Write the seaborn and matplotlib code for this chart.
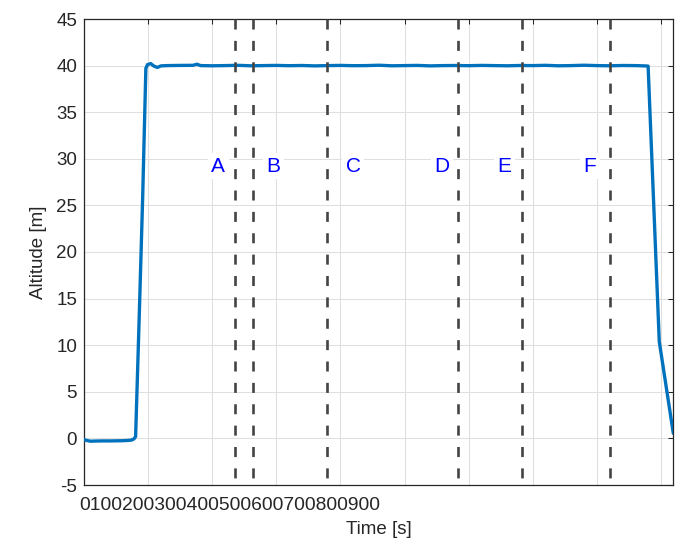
import matplotlib
matplotlib.use("Agg")
import matplotlib.pyplot as plt
import seaborn as sns
import pandas as pd

# ---------------- data ----------------
ground_t = [0, 4, 10, 20, 30, 40, 50, 60, 68, 74, 78, 80.5]
ground_alt = [-0.12, -0.22, -0.30, -0.28, -0.27, -0.27, -0.26, -0.25, -0.22, -0.18, -0.05, 0.2]

climb_t = [86, 91.5, 96.5, 99, 104, 109, 114.5, 120]
climb_alt = [12.7, 25.8, 39.7, 40.1, 40.22, 39.95, 39.8, 39.97]

cruise_t = [130, 150, 170, 176, 182, 200, 220, 240, 260, 280, 300, 320, 340, 360,
            380, 400, 420, 440, 460, 480, 500, 520, 540, 560, 580, 600, 620, 640,
            660, 680, 700, 720, 740, 760, 780, 800, 820, 840, 860, 874, 880]
cruise_alt = [40.00, 40.02, 40.03, 40.15, 40.00, 39.98, 40.00, 40.03, 39.98, 40.00,
              40.02, 39.99, 40.01, 39.97, 40.00, 40.02, 39.99, 40.00, 40.04, 39.98,
              40.00, 40.02, 39.97, 40.00, 40.01, 39.99, 40.02, 40.00, 39.98, 40.01,
              40.00, 40.03, 39.98, 40.00, 40.04, 40.00, 39.98, 40.01, 40.00, 39.97, 39.95]

descent_t = [897.4, 919.3]
descent_alt = [10.4, 0.55]

boundaries = [236, 263, 379, 584, 684, 820]
phase_labels = ["A", "B", "C", "D", "E", "F"]
phase_label_t = [209.5, 295.6, 420, 558, 655.6, 789]
phase_label_alt = 29.2

xtick_values = [0, 100, 200, 300, 400, 500, 600, 700, 800, 900]
xtick_labels = ["0", "100", "200", "300", "400", "500", "600", "700", "800", "900"]
ytick_values = [-5, 0, 5, 10, 15, 20, 25, 30, 35, 40, 45]

time = ground_t + climb_t + cruise_t + descent_t
alt = ground_alt + climb_alt + cruise_alt + descent_alt
df = pd.DataFrame({"Time": time, "Altitude": alt})

# ---------------- style ----------------
sns.set_theme(style="white")
plt.rcParams["font.family"] = ["Liberation Sans", "DejaVu Sans"]
plt.rcParams["axes.unicode_minus"] = False

FS = 13.5
DARK = "#262626"

fig = plt.figure(figsize=(6.96, 5.45), dpi=100)
ax = fig.add_axes([84 / 696, 1 - 485 / 545, 589.3 / 696, 466 / 545])

sns.lineplot(data=df, x="Time", y="Altitude", ax=ax, color="#0072BD",
             linewidth=2.4, estimator=None, sort=True, zorder=3)

for b in boundaries:
    ax.plot([b, b], [45, -5], color="#444444", linewidth=1.9,
            dashes=(3.8, 4.3), zorder=4)

for lab, t in zip(phase_labels, phase_label_t):
    ax.text(t, phase_label_alt, lab, color="blue", ha="center", va="center",
            fontsize=15, zorder=5,
            bbox=dict(facecolor="white", edgecolor="none", pad=2.5))

ax.set_xlim(0, 919.3)
ax.set_ylim(-5, 45)
ax.set_xticks(xtick_values, labels=[""] * len(xtick_values))
ax.set_yticks(ytick_values)
ax.set_yticklabels([str(v) for v in ytick_values])

# the x tick labels were rendered as a single run-together string
ax.text((79.3 - 84) / 589.3, (485 - 506) / 466, "".join(xtick_labels),
        transform=ax.transAxes, ha="left", va="center", fontsize=13.9, color=DARK)

ax.grid(True, color="#dfdfdf", linewidth=0.75)
ax.set_axisbelow(True)

ax.tick_params(axis="both", direction="in", length=3.6, width=0.75,
               colors=DARK, labelcolor=DARK, top=True, right=True,
               labelsize=FS, pad=5)
for sp in ax.spines.values():
    sp.set_color(DARK)
    sp.set_linewidth(0.9)

ax.set_xlabel("Time [s]", fontsize=FS, color=DARK)
ax.set_ylabel("Altitude [m]", fontsize=FS, color=DARK)
ax.xaxis.label.set_va("center")
ax.yaxis.label.set_va("center")
ax.xaxis.set_label_coords(0.5, (485 - 530) / 466)
ax.yaxis.set_label_coords((38.3 - 84) / 589.3, 0.5)

fig.savefig("out.png", dpi=100, facecolor="white")
